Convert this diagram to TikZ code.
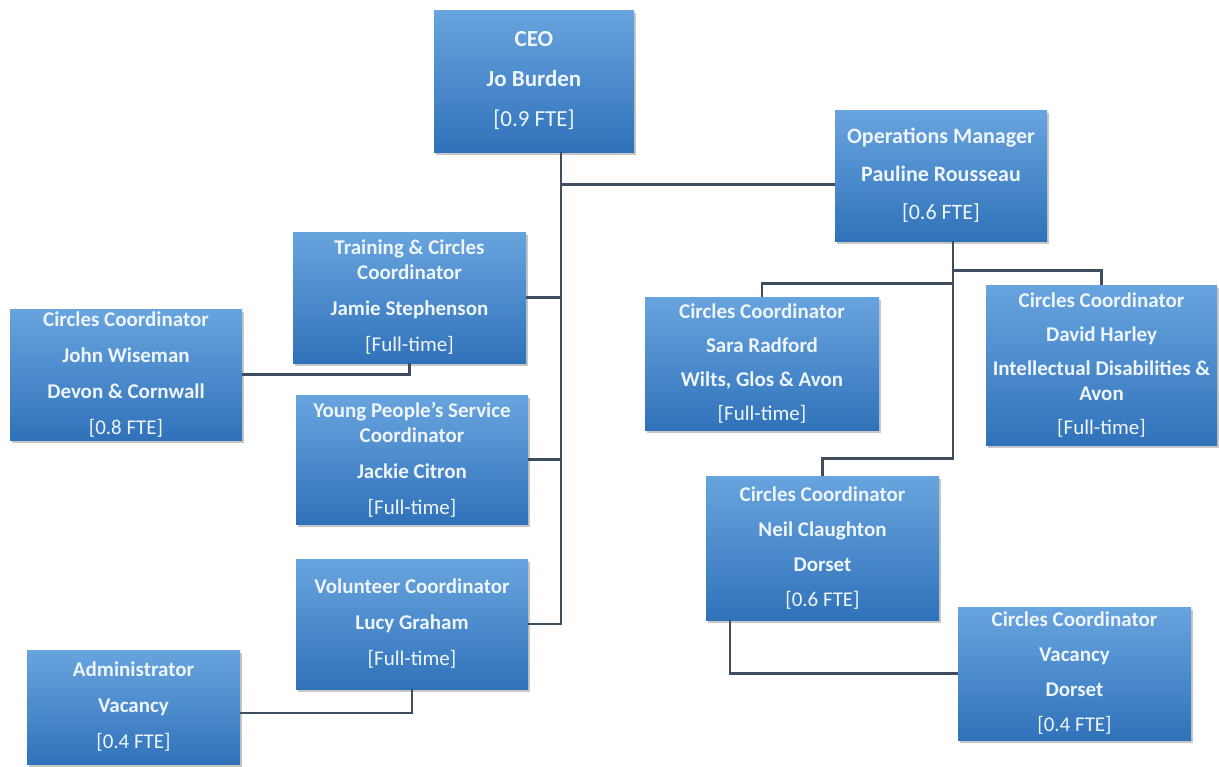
\documentclass[tikz,border=0pt]{standalone}
\usepackage{fontspec}
\setmainfont{Carlito}
\usetikzlibrary{shadows}
\definecolor{boxtop}{RGB}{104,164,222}
\definecolor{boxbot}{RGB}{48,114,186}
\definecolor{boxtext}{RGB}{238,245,252}
\definecolor{linkgray}{RGB}{62,78,94}

\begin{document}
\begin{tikzpicture}[
    x=0.5pt,y=-0.5pt,
    role/.style 2 args={minimum width=#1,minimum height=#2,inner sep=0pt,
      align=center,top color=boxtop,bottom color=boxbot,text=boxtext,
      font=\fontsize{10.5}{12.5}\selectfont,
      drop shadow={shadow xshift=1.2pt,shadow yshift=-1.6pt,fill=black!40,opacity=.55}},
    link/.style={draw=linkgray,line width=1.1pt}]
  \useasboundingbox (0,0) rectangle (1219,766);
  \node[role={100pt}{71pt},font=\fontsize{11.5}{13}\selectfont] (ceo) at (534,81)
    {\textbf{CEO}\\[7pt]\textbf{Jo Burden}\\[7pt]{[0.9 FTE]}};
  \node[role={106pt}{65.5pt},font=\fontsize{11}{13}\selectfont] (ops) at (941,175.5)
    {\textbf{Operations Manager}\\[6pt]\textbf{Pauline Rousseau}\\[6pt]{[0.6 FTE]}};
  \node[role={116.5pt}{65.5pt}] (train) at (409.5,297.5)
    {\textbf{Training \& Circles}\\\textbf{Coordinator}\\[5.5pt]\textbf{Jamie Stephenson}\\[5.5pt]{[Full-time]}};
  \node[role={116pt}{65.5pt}] (john) at (126,374.5)
    {\textbf{Circles Coordinator}\\[5.5pt]\textbf{John Wiseman}\\[5.5pt]\textbf{Devon \& Cornwall}\\[5.5pt]{[0.8 FTE]}};
  \node[role={116pt}{64.5pt}] (young) at (412,459.5)
    {\textbf{Young People's Service}\\\textbf{Coordinator}\\[5.5pt]\textbf{Jackie Citron}\\[5.5pt]{[Full-time]}};
  \node[role={116pt}{65pt}] (vol) at (412,624)
    {\textbf{Volunteer Coordinator}\\[5.5pt]\textbf{Lucy Graham}\\[5.5pt]{[Full-time]}};
  \node[role={106.5pt}{57pt}] (admin) at (133.5,707)
    {\textbf{Administrator}\\[5.5pt]\textbf{Vacancy}\\[5.5pt]{[0.4 FTE]}};
  \node[role={117pt}{66.5pt}] (sara) at (762,363.5)
    {\textbf{Circles Coordinator}\\[4.5pt]\textbf{Sara Radford}\\[4.5pt]\textbf{Wilts, Glos \& Avon}\\[4.5pt]{[Full-time]}};
  \node[role={115.5pt}{80pt}] (david) at (1101.5,365)
    {\textbf{Circles Coordinator}\\[4.5pt]\textbf{David Harley}\\[4.5pt]\textbf{Intellectual Disabilities \&}\\\textbf{Avon}\\[4.5pt]{[Full-time]}};
  \node[role={116.5pt}{72pt}] (neil) at (822.5,548)
    {\textbf{Circles Coordinator}\\[5pt]\textbf{Neil Claughton}\\[5pt]\textbf{Dorset}\\[5pt]{[0.6 FTE]}};
  \node[role={116.5pt}{66.5pt}] (vac) at (1074.5,673.5)
    {\textbf{Circles Coordinator}\\[5pt]\textbf{Vacancy}\\[5pt]\textbf{Dorset}\\[5pt]{[0.4 FTE]}};
  \coordinate (trunk) at ([xshift=13.5pt]ceo.south);
  \coordinate (opsdrop) at ([xshift=6pt]ops.south);
  \draw[link] (trunk) |- ([yshift=-4.5pt]ops.west);
  \draw[link] (trunk) |- (vol.east);
  \draw[link] (train.east) -- (train.east -| trunk);
  \draw[link] (young.east) -- (young.east -| trunk);
  \draw[link] (john.east) -| (train.south);
  \draw[link] ([yshift=-3pt]admin.east) -| (vol.south);
  \draw[link] (opsdrop) -- ++(0,29) -| (david.north);
  \draw[link] (opsdrop) -- ++(0,42) -| (sara.north);
  \draw[link] (opsdrop) -- ++(0,217) -| (neil.north);
  \draw[link] ([xshift=12pt]neil.south west) |- (vac.west);
\end{tikzpicture}
\end{document}
